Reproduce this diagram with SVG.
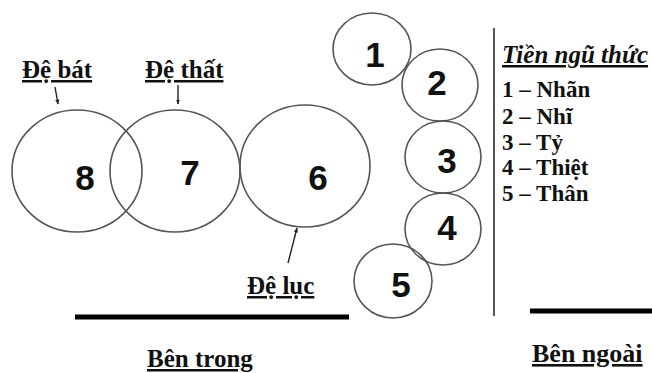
<svg xmlns="http://www.w3.org/2000/svg" width="652" height="373" viewBox="0 0 652 373">
<defs>
<marker id="ah" viewBox="0 0 10 10" refX="9" refY="5" markerWidth="5" markerHeight="5" orient="auto" markerUnits="userSpaceOnUse">
<path d="M0,1 L10,5 L0,9 z" fill="#222"/>
</marker>
<style>
.c{fill:none;stroke:#555;stroke-width:1.6}
.n{font-family:"Liberation Sans",Arial,sans-serif;font-weight:bold;font-size:35px;fill:#111;text-anchor:middle}
.t{font-family:"Liberation Serif","Times New Roman",serif;font-weight:bold;font-size:25px;fill:#111}
.u{text-decoration:underline}
.a{stroke:#222;stroke-width:1.4;fill:none;marker-end:url(#ah)}
.bar{stroke:#000;stroke-width:5}
</style>
</defs>
<rect width="652" height="373" fill="#fff"/>
<g id="node8"><ellipse class="c" cx="77" cy="171" rx="65" ry="61"/><text class="n" x="85" y="190">8</text></g>
<g id="node7"><ellipse class="c" cx="175" cy="171" rx="65" ry="61"/><text class="n" x="190" y="185">7</text></g>
<g id="node6"><ellipse class="c" cx="305" cy="166" rx="65" ry="61"/><text class="n" x="318" y="190">6</text></g>
<g id="node1"><ellipse class="c" cx="372" cy="49" rx="39" ry="36"/><text class="n" x="375" y="67">1</text></g>
<g id="node2"><ellipse class="c" cx="440" cy="85" rx="38" ry="36"/><text class="n" x="437" y="95">2</text></g>
<g id="node3"><ellipse class="c" cx="443" cy="157" rx="38" ry="36"/><text class="n" x="447" y="173">3</text></g>
<g id="node4"><ellipse class="c" cx="443" cy="229" rx="38" ry="36"/><text class="n" x="447" y="240">4</text></g>
<g id="node5"><ellipse class="c" cx="393" cy="281" rx="39" ry="37"/><text class="n" x="401" y="297">5</text></g>
<g id="labels">
<text class="t u" x="22" y="78">Đệ bát</text>
<text class="t u" x="145" y="78">Đệ thất</text>
<text class="t u" x="247" y="294">Đệ lục</text>
</g>
<g id="connectors">
<line class="a" x1="55" y1="87" x2="58" y2="104"/>
<line class="a" x1="178" y1="85" x2="178" y2="104"/>
<line class="a" x1="288" y1="263" x2="297" y2="228"/>
</g>
<g id="divider">
<line x1="494" y1="28" x2="494" y2="316" stroke="#555" stroke-width="2"/>
<line class="bar" x1="75" y1="317" x2="349" y2="317"/>
<line class="bar" x1="530" y1="311" x2="652" y2="311"/>
</g>
<g id="legend">
<text class="t u" x="502" y="63" font-style="italic" style="font-size:25px">Tiền ngũ thức</text>
<text class="t" x="502" y="97" style="font-size:23px">1 – Nhãn</text>
<text class="t" x="502" y="124" style="font-size:23px">2 – Nhĩ</text>
<text class="t" x="502" y="150" style="font-size:23px">3 – Tỷ</text>
<text class="t" x="502" y="175" style="font-size:23px">4 – Thiệt</text>
<text class="t" x="502" y="201" style="font-size:23px">5 – Thân</text>
</g>
<g id="sides">
<text class="t u" x="147" y="367" style="font-size:25px">Bên trong</text>
<text class="t u" x="532" y="362" style="font-size:26px">Bên ngoài</text>
</g>
</svg>
